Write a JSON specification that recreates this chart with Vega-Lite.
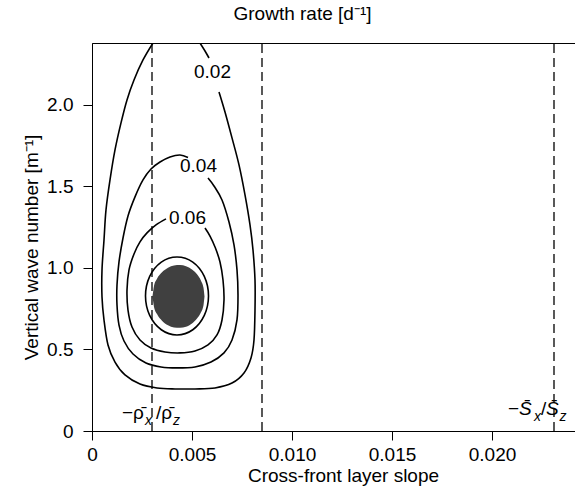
{
  "$schema": "https://vega.github.io/schema/vega-lite/v6.json",
  "width": 485,
  "height": 388,
  "autosize": "none",
  "padding": {"left": 92, "top": 43, "right": 0, "bottom": 69},
  "background": "white",
  "title": {"text": "Growth rate [d⁻¹]", "fontSize": 19, "font": "Liberation Sans", "fontWeight": "normal", "color": "black", "anchor": "middle", "dx": -32, "offset": 18},
  "config": {"view": {"stroke": "black", "strokeWidth": 1}, "font": "Liberation Sans"},
  "datasets": {
    "contours": [
      {"seg": "02a", "i": 0, "x": 0.00305, "y": 2.38},
      {"seg": "02a", "i": 1, "x": 0.00255, "y": 2.276},
      {"seg": "02a", "i": 2, "x": 0.0021, "y": 2.153},
      {"seg": "02a", "i": 3, "x": 0.00175, "y": 2.031},
      {"seg": "02a", "i": 4, "x": 0.00145, "y": 1.89},
      {"seg": "02a", "i": 5, "x": 0.00115, "y": 1.724},
      {"seg": "02a", "i": 6, "x": 0.0009, "y": 1.54},
      {"seg": "02a", "i": 7, "x": 0.0007, "y": 1.356},
      {"seg": "02a", "i": 8, "x": 0.0006, "y": 1.172},
      {"seg": "02a", "i": 9, "x": 0.0005, "y": 0.988},
      {"seg": "02a", "i": 10, "x": 0.0005, "y": 0.822},
      {"seg": "02a", "i": 11, "x": 0.0006, "y": 0.681},
      {"seg": "02a", "i": 12, "x": 0.0008, "y": 0.528},
      {"seg": "02a", "i": 13, "x": 0.00115, "y": 0.423},
      {"seg": "02a", "i": 14, "x": 0.00165, "y": 0.344},
      {"seg": "02a", "i": 15, "x": 0.0024, "y": 0.288},
      {"seg": "02a", "i": 16, "x": 0.00325, "y": 0.264},
      {"seg": "02a", "i": 17, "x": 0.00415, "y": 0.258},
      {"seg": "02a", "i": 18, "x": 0.00515, "y": 0.258},
      {"seg": "02a", "i": 19, "x": 0.00615, "y": 0.264},
      {"seg": "02a", "i": 20, "x": 0.007, "y": 0.294},
      {"seg": "02a", "i": 21, "x": 0.0076, "y": 0.356},
      {"seg": "02a", "i": 22, "x": 0.00795, "y": 0.448},
      {"seg": "02a", "i": 23, "x": 0.0081, "y": 0.558},
      {"seg": "02a", "i": 24, "x": 0.00815, "y": 0.742},
      {"seg": "02a", "i": 25, "x": 0.00815, "y": 0.926},
      {"seg": "02a", "i": 26, "x": 0.00805, "y": 1.11},
      {"seg": "02a", "i": 27, "x": 0.0079, "y": 1.264},
      {"seg": "02a", "i": 28, "x": 0.00765, "y": 1.448},
      {"seg": "02a", "i": 29, "x": 0.00735, "y": 1.632},
      {"seg": "02a", "i": 30, "x": 0.007, "y": 1.798},
      {"seg": "02a", "i": 31, "x": 0.00665, "y": 1.957},
      {"seg": "02a", "i": 32, "x": 0.00635, "y": 2.08},
      {"seg": "02b", "i": 0, "x": 0.0054, "y": 2.38},
      {"seg": "02b", "i": 1, "x": 0.00565, "y": 2.331},
      {"seg": "02b", "i": 2, "x": 0.00585, "y": 2.288},
      {"seg": "04", "i": 0, "x": 0.0048, "y": 1.678},
      {"seg": "04", "i": 1, "x": 0.0044, "y": 1.693},
      {"seg": "04", "i": 2, "x": 0.0039, "y": 1.681},
      {"seg": "04", "i": 3, "x": 0.0034, "y": 1.65},
      {"seg": "04", "i": 4, "x": 0.00295, "y": 1.607},
      {"seg": "04", "i": 5, "x": 0.00255, "y": 1.54},
      {"seg": "04", "i": 6, "x": 0.00215, "y": 1.436},
      {"seg": "04", "i": 7, "x": 0.0018, "y": 1.319},
      {"seg": "04", "i": 8, "x": 0.00155, "y": 1.184},
      {"seg": "04", "i": 9, "x": 0.00135, "y": 1.037},
      {"seg": "04", "i": 10, "x": 0.00125, "y": 0.896},
      {"seg": "04", "i": 11, "x": 0.00125, "y": 0.773},
      {"seg": "04", "i": 12, "x": 0.00135, "y": 0.65},
      {"seg": "04", "i": 13, "x": 0.0016, "y": 0.552},
      {"seg": "04", "i": 14, "x": 0.00205, "y": 0.472},
      {"seg": "04", "i": 15, "x": 0.0027, "y": 0.417},
      {"seg": "04", "i": 16, "x": 0.00345, "y": 0.393},
      {"seg": "04", "i": 17, "x": 0.00425, "y": 0.387},
      {"seg": "04", "i": 18, "x": 0.00515, "y": 0.393},
      {"seg": "04", "i": 19, "x": 0.00595, "y": 0.423},
      {"seg": "04", "i": 20, "x": 0.0066, "y": 0.479},
      {"seg": "04", "i": 21, "x": 0.007, "y": 0.558},
      {"seg": "04", "i": 22, "x": 0.00725, "y": 0.681},
      {"seg": "04", "i": 23, "x": 0.0073, "y": 0.834},
      {"seg": "04", "i": 24, "x": 0.00725, "y": 0.988},
      {"seg": "04", "i": 25, "x": 0.0071, "y": 1.141},
      {"seg": "04", "i": 26, "x": 0.00685, "y": 1.282},
      {"seg": "04", "i": 27, "x": 0.0065, "y": 1.417},
      {"seg": "04", "i": 28, "x": 0.0061, "y": 1.503},
      {"seg": "04", "i": 29, "x": 0.0058, "y": 1.552},
      {"seg": "06", "i": 0, "x": 0.0037, "y": 1.301},
      {"seg": "06", "i": 1, "x": 0.0032, "y": 1.264},
      {"seg": "06", "i": 2, "x": 0.00275, "y": 1.215},
      {"seg": "06", "i": 3, "x": 0.0024, "y": 1.16},
      {"seg": "06", "i": 4, "x": 0.0021, "y": 1.086},
      {"seg": "06", "i": 5, "x": 0.00185, "y": 0.988},
      {"seg": "06", "i": 6, "x": 0.00175, "y": 0.865},
      {"seg": "06", "i": 7, "x": 0.0018, "y": 0.742},
      {"seg": "06", "i": 8, "x": 0.002, "y": 0.638},
      {"seg": "06", "i": 9, "x": 0.0024, "y": 0.558},
      {"seg": "06", "i": 10, "x": 0.00295, "y": 0.509},
      {"seg": "06", "i": 11, "x": 0.00365, "y": 0.485},
      {"seg": "06", "i": 12, "x": 0.0044, "y": 0.479},
      {"seg": "06", "i": 13, "x": 0.00515, "y": 0.491},
      {"seg": "06", "i": 14, "x": 0.0058, "y": 0.528},
      {"seg": "06", "i": 15, "x": 0.00625, "y": 0.589},
      {"seg": "06", "i": 16, "x": 0.0065, "y": 0.681},
      {"seg": "06", "i": 17, "x": 0.0066, "y": 0.804},
      {"seg": "06", "i": 18, "x": 0.00655, "y": 0.926},
      {"seg": "06", "i": 19, "x": 0.0064, "y": 1.037},
      {"seg": "06", "i": 20, "x": 0.00615, "y": 1.129},
      {"seg": "06", "i": 21, "x": 0.0059, "y": 1.196},
      {"seg": "06", "i": 22, "x": 0.00565, "y": 1.245}
    ],
    "ring": [
      {"i": 0, "x": 0.005825, "y": 0.828},
      {"i": 1, "x": 0.005615, "y": 0.948},
      {"i": 2, "x": 0.00504, "y": 1.036},
      {"i": 3, "x": 0.00425, "y": 1.067},
      {"i": 4, "x": 0.003465, "y": 1.036},
      {"i": 5, "x": 0.002885, "y": 0.948},
      {"i": 6, "x": 0.002675, "y": 0.828},
      {"i": 7, "x": 0.002885, "y": 0.709},
      {"i": 8, "x": 0.003465, "y": 0.621},
      {"i": 9, "x": 0.00425, "y": 0.589},
      {"i": 10, "x": 0.00504, "y": 0.621},
      {"i": 11, "x": 0.005615, "y": 0.709}
    ],
    "blob": [
      {"x": 0.003025, "y": 0.825, "y2": 0.825},
      {"x": 0.0031, "y": 0.89, "y2": 0.761},
      {"x": 0.00325, "y": 0.934, "y2": 0.717},
      {"x": 0.0035, "y": 0.974, "y2": 0.676},
      {"x": 0.0038, "y": 1.002, "y2": 0.648},
      {"x": 0.0041, "y": 1.015, "y2": 0.635},
      {"x": 0.0044, "y": 1.018, "y2": 0.633},
      {"x": 0.0047, "y": 1.01, "y2": 0.64},
      {"x": 0.005, "y": 0.99, "y2": 0.66},
      {"x": 0.00525, "y": 0.961, "y2": 0.69},
      {"x": 0.00545, "y": 0.922, "y2": 0.728},
      {"x": 0.005575, "y": 0.878, "y2": 0.772},
      {"x": 0.005625, "y": 0.825, "y2": 0.825}
    ],
    "vlines": [
      {"x": 0.003, "y": 0, "y2": 2.38},
      {"x": 0.0085, "y": 0, "y2": 2.38},
      {"x": 0.0231, "y": 0, "y2": 2.38}
    ],
    "labels": [
      {"x": 0.006025, "y": 2.205, "t": "0.02"},
      {"x": 0.005325, "y": 1.623, "t": "0.04"},
      {"x": 0.004775, "y": 1.304, "t": "0.06"}
    ],
    "annRho": [
      {"x": 0.0015, "y": 0.0736, "t": "−ρ̄"},
      {"x": 0.0032, "y": 0.0736, "t": "/ρ̄"},
      {"x": 0.0208, "y": 0.098, "t": "−"},
      {"x": 0.02245, "y": 0.098, "t": "/"}
    ],
    "annS": [
      {"x": 0.02135, "y": 0.098, "t": "S̄"},
      {"x": 0.0227, "y": 0.098, "t": "S̄"}
    ],
    "annSub": [
      {"x": 0.00265, "y": 0.0368, "t": "x"},
      {"x": 0.00405, "y": 0.0368, "t": "z"},
      {"x": 0.0221, "y": 0.061, "t": "x"},
      {"x": 0.02338, "y": 0.061, "t": "z"}
    ]
  },
  "encoding": {
    "x": {
      "field": "x", "type": "quantitative",
      "scale": {"domain": [0, 0.02425], "nice": false, "zero": false},
      "axis": {
        "title": "Cross-front layer slope",
        "values": [0, 0.005, 0.01, 0.015, 0.02],
        "labelExpr": "datum.value == 0 ? '0' : format(datum.value, '.3f')",
        "grid": false, "tickSize": 9, "tickColor": "black", "domainColor": "black",
        "labelColor": "black", "titleColor": "black",
        "labelFontSize": 19, "titleFontSize": 19, "titleFontWeight": "normal",
        "labelFont": "Liberation Sans", "titleFont": "Liberation Sans",
        "labelPadding": 5, "titlePadding": 2, "titleX": 251, "labelFlush": false
      }
    },
    "y": {
      "field": "y", "type": "quantitative",
      "scale": {"domain": [0, 2.38], "nice": false, "zero": false},
      "axis": {
        "title": "Vertical wave number [m⁻¹]",
        "values": [0, 0.5, 1, 1.5, 2],
        "labelExpr": "datum.value == 0 ? '0' : format(datum.value, '.1f')",
        "grid": false, "tickSize": 9, "tickColor": "black", "domainColor": "black",
        "labelColor": "black", "titleColor": "black",
        "labelFontSize": 19, "titleFontSize": 19, "titleFontWeight": "normal",
        "labelFont": "Liberation Sans", "titleFont": "Liberation Sans",
        "labelPadding": 10, "titlePadding": 5, "titleY": 204, "labelFlush": false
      }
    }
  },
  "layer": [
    {
      "data": {"name": "blob"},
      "mark": {"type": "area", "color": "#404040", "interpolate": "monotone"},
      "encoding": {"y2": {"field": "y2"}}
    },
    {
      "data": {"name": "contours"},
      "mark": {"type": "line", "color": "black", "strokeWidth": 1.6, "interpolate": "cardinal", "clip": true},
      "encoding": {"detail": {"field": "seg"}, "order": {"field": "i", "type": "quantitative"}}
    },
    {
      "data": {"name": "ring"},
      "mark": {"type": "line", "color": "black", "strokeWidth": 1.6, "interpolate": "cardinal-closed"},
      "encoding": {"order": {"field": "i", "type": "quantitative"}}
    },
    {
      "data": {"name": "vlines"},
      "mark": {"type": "rule", "color": "black", "strokeWidth": 1.3, "strokeDash": [9, 5]},
      "encoding": {"y2": {"field": "y2"}}
    },
    {
      "data": {"name": "labels"},
      "mark": {"type": "text", "fontSize": 19, "font": "Liberation Sans", "color": "black", "align": "center", "baseline": "middle"},
      "encoding": {"text": {"field": "t"}}
    },
    {
      "data": {"name": "annRho"},
      "mark": {"type": "text", "fontSize": 19, "font": "Liberation Sans", "color": "black", "align": "left", "baseline": "alphabetic"},
      "encoding": {"text": {"field": "t"}}
    },
    {
      "data": {"name": "annS"},
      "mark": {"type": "text", "fontSize": 19, "font": "Liberation Sans", "fontStyle": "italic", "color": "black", "align": "left", "baseline": "alphabetic"},
      "encoding": {"text": {"field": "t"}}
    },
    {
      "data": {"name": "annSub"},
      "mark": {"type": "text", "fontSize": 14, "font": "Liberation Sans", "fontStyle": "italic", "color": "black", "align": "left", "baseline": "alphabetic"},
      "encoding": {"text": {"field": "t"}}
    }
  ]
}
